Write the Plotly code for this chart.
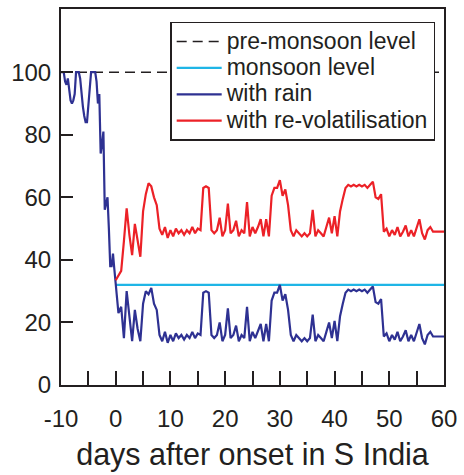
import numpy as np
import plotly.graph_objects as go

# Time axes: finer sampling before onset, half-day steps after onset
days_pre = np.arange(-10.0, 0.0, 0.25)
days_post = np.arange(0.0, 60.01, 0.5)

# Concentration with rain, before onset (-10 .. -0.25 days)
rain_pre = [
    100, 100, 100, 97, 96, 98, 94, 91, 90, 91,
    93, 100, 100, 100, 98, 93, 89, 86, 84, 84,
    89, 93, 100, 100, 100, 100, 97, 90, 93, 74,
    77, 81, 56, 58, 60, 50, 38, 38, 42, 37,
]

# Concentration with rain, after onset (0 .. 60 days)
rain_post = [
    32, 23, 25, 15, 30, 22, 14, 24, 18, 14,
    26, 30, 29, 31, 26, 24, 16, 14, 17, 13.5,
    16, 14, 16.5, 15, 16, 14.5, 16, 15, 17, 15,
    16.5, 16, 29.5, 30, 29.5, 16, 15, 16, 20, 14,
    16, 24.5, 15, 16, 19, 14, 16, 15, 25, 14,
    17, 15, 17, 19.5, 14, 19.5, 14, 27, 29.5, 29.5,
    32, 27, 29, 24, 16, 14, 16, 15, 14, 15,
    14, 15, 22.5, 14, 16, 15, 14, 17, 20, 15,
    20.5, 14, 22, 26, 29.5, 30.5, 30, 30.5, 30, 30.5,
    30, 30.5, 29.5, 30.5, 31.5, 26.5, 26, 27.5, 15.5, 16.5,
    14, 16, 14.5, 17, 14, 15.5, 17.5, 14, 16, 14,
    17, 19.5, 15, 13, 16, 17, 15.5, 15.5, 15.5, 15.5,
    15.5,
]

# Concentration with re-volatilisation (0 .. 60 days)
revol_post = [
    33.5, 35, 36.5, 46, 56.5, 48, 41.5, 51.5, 46, 41,
    55.5, 61, 64.5, 63.5, 60, 57.5, 50, 48, 50.5, 47,
    49.5, 47.5, 50, 48.5, 49.5, 48, 49.5, 48.5, 50.5, 48.5,
    50, 49.5, 63, 63.5, 63, 49.5, 48.5, 49.5, 53.5, 47.5,
    49.5, 58, 48.5, 49.5, 52.5, 47.5, 49.5, 48.5, 58.5, 47.5,
    50.5, 48.5, 50.5, 53, 47.5, 53, 47.5, 60.5, 63, 63,
    65.5, 60.5, 62.5, 57.5, 49.5, 47.5, 49.5, 48.5, 47.5, 48.5,
    47.5, 48.5, 56, 47.5, 49.5, 48.5, 47.5, 50.5, 53.5, 48.5,
    54, 47.5, 55.5, 59.5, 63, 64, 63.5, 64, 63.5, 64,
    63.5, 64, 63, 64, 65, 60, 59.5, 61, 49, 50,
    47.5, 49.5, 48, 50.5, 47.5, 49, 51, 47.5, 49.5, 47.5,
    50.5, 53, 48.5, 46.5, 49.5, 50.5, 49, 49, 49, 49,
    49,
]

# Reference levels
pre_monsoon_level = 100
monsoon_level = 32
x_start, x_end = -10, 60

x_ticks = list(range(-10, 61, 5))
x_labels = [str(v) if v % 10 == 0 else "" for v in x_ticks]
y_ticks = [0, 20, 40, 60, 80, 100]

series_names = ["pre-monsoon level", "monsoon level", "with rain",
                "with re-volatilisation"]

FONT = "Liberation Sans, Arial, sans-serif"
INK = "#231F20"


def legend_label(text):
    # larger glyphs inside a compact legend row
    return f'<span style="font-size:23px">{text}</span>'


fig = go.Figure()

fig.add_trace(go.Scatter(
    x=[x_start, x_end], y=[pre_monsoon_level, pre_monsoon_level],
    mode="lines", name=legend_label(series_names[0]),
    line=dict(color=INK, width=1.6, dash="10px,6px"),
))
fig.add_trace(go.Scatter(
    x=[0, x_end], y=[monsoon_level, monsoon_level],
    mode="lines", name=legend_label(series_names[1]),
    line=dict(color="#1FB5E6", width=2.2),
))
fig.add_trace(go.Scatter(
    x=np.concatenate([days_pre, days_post]),
    y=list(rain_pre) + list(rain_post),
    mode="lines", name=legend_label(series_names[2]),
    line=dict(color="#2E3192", width=2.2),
))
fig.add_trace(go.Scatter(
    x=days_post, y=revol_post,
    mode="lines", name=legend_label(series_names[3]),
    line=dict(color="#EC2127", width=2.2),
))

fig.update_layout(
    width=464, height=475,
    margin=dict(l=61, r=18, t=7, b=90),
    paper_bgcolor="white", plot_bgcolor="white",
    font=dict(family=FONT, size=24, color=INK),
    showlegend=True,
    legend=dict(
        x=0.977, y=0.966, xanchor="right", yanchor="top",
        bgcolor="white", bordercolor=INK, borderwidth=1.5,
        font=dict(family=FONT, size=18, color=INK),
        itemwidth=45, tracegroupgap=0,
    ),
)

fig.update_xaxes(
    range=[x_start, x_end],
    tickvals=x_ticks, ticktext=x_labels,
    ticks="inside", ticklen=14, tickwidth=2, tickcolor=INK,
    ticklabelstandoff=11,
    showline=True, linewidth=2, linecolor=INK, mirror=True,
    showgrid=False, zeroline=False,
    title=dict(text="days after onset in S India",
               font=dict(family=FONT, size=30.5, color=INK), standoff=13),
)
fig.update_yaxes(
    range=[0, 120.2],
    tickvals=y_ticks,
    ticks="inside", ticklen=12, tickwidth=2, tickcolor=INK,
    ticklabelstandoff=3,
    showline=True, linewidth=2, linecolor=INK, mirror=True,
    showgrid=False, zeroline=False,
)

fig.write_html("out.html")
